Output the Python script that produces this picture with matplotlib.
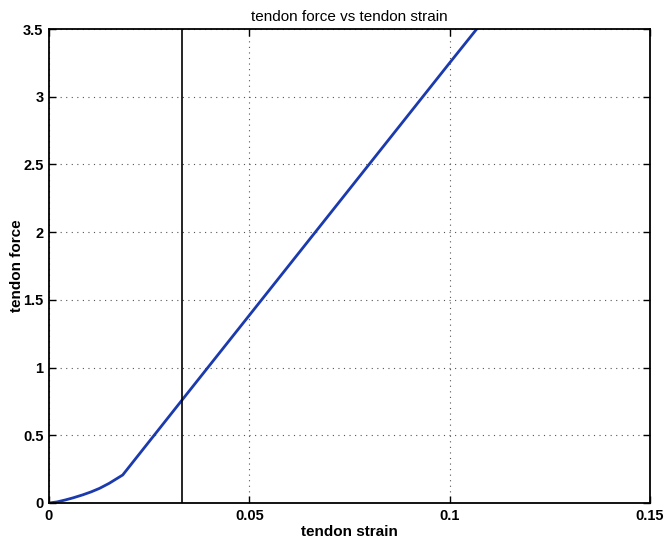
import matplotlib
matplotlib.use("Agg")
import matplotlib.pyplot as plt

strain = [0, 0.002, 0.004, 0.006, 0.0084, 0.0105, 0.0126, 0.015, 0.0184, 0.0332, 0.1, 0.11]
force = [0, 0.008, 0.022, 0.038, 0.06, 0.082, 0.108, 0.145, 0.207, 0.76, 3.25, 3.62]
vline_x = 0.0332
xticks = [0, 0.05, 0.1, 0.15]
xticklabels = ["0", "0.05", "0.1", "0.15"]
yticks = [0, 0.5, 1, 1.5, 2, 2.5, 3, 3.5]
yticklabels = ["0", "0.5", "1", "1.5", "2", "2.5", "3", "3.5"]

plt.rcParams['font.family'] = ['Liberation Sans', 'DejaVu Sans']

fig = plt.figure(figsize=(6.65, 5.41), dpi=100)
ax = fig.add_axes([49/665, 38/541, 601/665, 474/541])
ax.plot(strain, force, color='#1a3aad', lw=2.0, clip_on=True)
ax.axvline(vline_x, color='black', lw=1.2)
ax.set_xlim(0, 0.15)
ax.set_ylim(0, 3.5)
ax.set_xticks(xticks)
ax.set_xticklabels(xticklabels, fontweight='bold', fontsize=10.5)
ax.set_yticks(yticks)
ax.set_yticklabels(yticklabels, fontweight='bold', fontsize=10.5)
ax.grid(True, linestyle=(0, (1, 4)), color='#555555', lw=0.8)
ax.tick_params(direction='in', length=5, width=1, top=True, right=True, pad=4)
for s in ax.spines.values():
    s.set_linewidth(1.3)
ax.set_title("tendon force vs tendon strain", fontsize=11, pad=6)
ax.set_xlabel("tendon strain", fontsize=11, fontweight='bold', labelpad=2)
ax.set_ylabel("tendon force", fontsize=11, fontweight='bold', labelpad=-1)
fig.savefig("out.png", dpi=100)
